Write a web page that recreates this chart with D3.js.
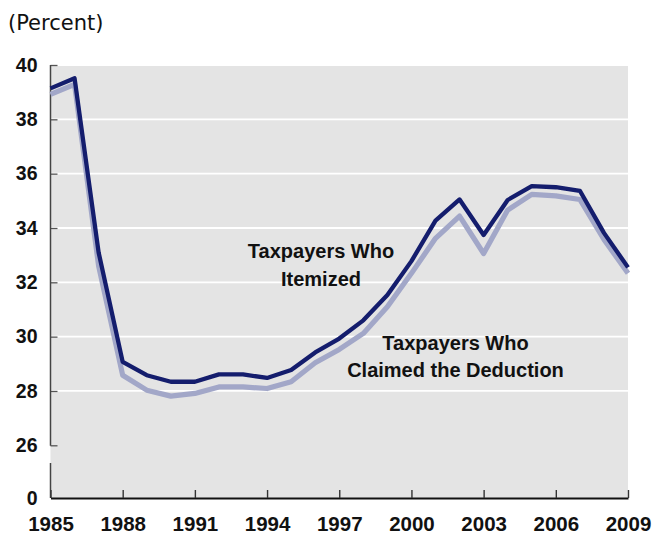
<!DOCTYPE html>
<html>
<head>
<meta charset="utf-8">
<script src="https://cdn.jsdelivr.net/npm/d3@7"></script>
<style>
  html, body { margin: 0; padding: 0; background: #fff; }
  svg { display: block; }
</style>
</head>
<body>
<svg id="chart" width="652" height="535"></svg>
<script>
const years = d3.range(1985, 2010);
const itemized = [39.14, 39.51, 33.1, 29.07, 28.58, 28.34, 28.34, 28.61, 28.61, 28.48, 28.77, 29.42, 29.93, 30.6, 31.53, 32.78, 34.27, 35.05, 33.74, 35.03, 35.54, 35.5, 35.37, 33.82, 32.55];
const claimed = [38.92, 39.29, 32.6, 28.58, 28.03, 27.81, 27.91, 28.15, 28.15, 28.09, 28.34, 29.04, 29.53, 30.12, 31.1, 32.33, 33.62, 34.44, 33.06, 34.66, 35.24, 35.18, 35.05, 33.58, 32.33];
const yTicks = [0, 26, 28, 30, 32, 34, 36, 38, 40];
const gridTicks = [28, 30, 32, 34, 36, 38, 40];
const xTicks = [1985, 1988, 1991, 1994, 1997, 2000, 2003, 2006, 2009];
const unitLabel = "(Percent)";
const labelItemized = ["Taxpayers Who", "Itemized"];
const labelClaimed = ["Taxpayers Who", "Claimed the Deduction"];

const svg = d3.select("#chart");
const L = 50.5, R = 628, T = 65, B = 498;

const x = d3.scaleLinear().domain([1985, 2009]).range([L, R]);
// broken axis: 0 sits one step below 26
const y = d3.scaleLinear().domain([0, 26, 40]).range([B, 445.3, T]);

svg.append("rect").attr("x", L).attr("y", T).attr("width", R - L).attr("height", B - T).attr("fill", "#e4e4e4");

svg.append("g").selectAll("line").data(gridTicks).join("line")
  .attr("x1", L).attr("x2", R)
  .attr("y1", d => y(d)).attr("y2", d => y(d))
  .attr("stroke", "#fff").attr("stroke-width", 1.8);

// left axis
const yAxis = d3.axisLeft(y).tickValues(yTicks).tickSize(-7).tickPadding(13).tickFormat(d3.format("d"));
const gy = svg.append("g").attr("transform", `translate(${L},0)`).call(yAxis);
gy.select(".domain").remove();
gy.selectAll(".tick line").attr("stroke", "#555").attr("stroke-width", 1.3);
gy.selectAll(".tick").filter(d => d === 0).select("line").remove();
gy.selectAll("text").attr("font-family", "Liberation Sans, Arial, sans-serif").attr("font-weight", "bold").attr("font-size", 19.5).attr("fill", "#111");
// broken domain line
svg.append("line").attr("x1", L).attr("x2", L).attr("y1", T).attr("y2", y(26) + 0.5).attr("stroke", "#444").attr("stroke-width", 1.5);
svg.append("line").attr("x1", L).attr("x2", L).attr("y1", 463).attr("y2", B).attr("stroke", "#444").attr("stroke-width", 1.5);

// bottom axis
const xAxis = d3.axisBottom(x).tickValues(xTicks).tickSize(-8).tickSizeOuter(0).tickPadding(18).tickFormat(d3.format("d"));
const gx = svg.append("g").attr("transform", `translate(0,${B})`).call(xAxis);
gx.select(".domain").attr("stroke", "#111").attr("stroke-width", 2);
gx.selectAll(".tick line").attr("stroke", "#333").attr("stroke-width", 1.4);
gx.selectAll("text").attr("font-family", "Liberation Sans, Arial, sans-serif").attr("font-weight", "bold").attr("font-size", 20.5).attr("fill", "#111");

// lines
const line = d3.line().x((d, i) => x(years[i])).y(d => y(d));
svg.append("path").datum(claimed).attr("d", line).attr("fill", "none")
  .attr("stroke", "#a2a7c8").attr("stroke-width", 5.2).attr("stroke-linejoin", "round");
svg.append("path").datum(itemized).attr("d", line).attr("fill", "none")
  .attr("stroke", "#141d6d").attr("stroke-width", 4.3).attr("stroke-linejoin", "round");

// unit label
svg.append("text").attr("x", 8).attr("y", 29.5).text(unitLabel)
  .attr("font-family", "DejaVu Sans, sans-serif").attr("font-size", 21).attr("fill", "#111");

function annot(lines, cx, y0) {
  const t = svg.append("text").attr("text-anchor", "middle")
    .attr("font-family", "Liberation Sans, Arial, sans-serif").attr("font-weight", "bold")
    .attr("font-size", 20).attr("fill", "#111");
  lines.forEach((s, i) => t.append("tspan").attr("x", cx).attr("y", y0 + i * 27.4).text(s));
}
annot(labelItemized, 321, 258.3);
annot(labelClaimed, 455.5, 350);
</script>
</body>
</html>
